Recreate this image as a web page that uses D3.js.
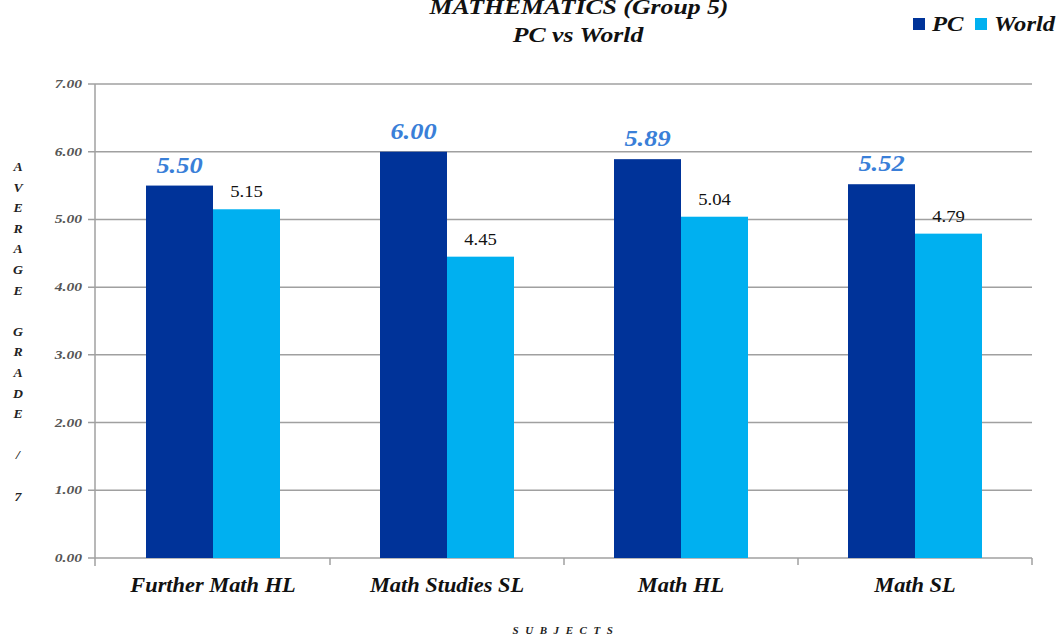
<!DOCTYPE html>
<html><head><meta charset="utf-8">
<script src="https://cdn.jsdelivr.net/npm/d3@7"></script>
</head><body style="margin:0;background:#fff"><svg id="c" width="1064" height="638" style="display:block"></svg>
<script>
const categories = ["Further Math HL","Math Studies SL","Math HL","Math SL"];
const seriesNames = ["PC","World"];
const pcValues = [5.50, 6.00, 5.89, 5.52];
const worldValues = [5.15, 4.45, 5.04, 4.79];
const yTicks = [0,1,2,3,4,5,6,7];
const yAxisLetters = ["A","V","E","R","A","G","E","","G","R","A","D","E","","/","","7"];
const colors = ["#003399","#00b0f0"];
const FF = "Liberation Serif";

const svg = d3.select("#c");
const L = 96, R = 1032, T = 84, B = 558;
const x0 = d3.scaleBand().domain(categories).range([L,R]).paddingInner(0).paddingOuter(0);
const x1 = d3.scaleBand().domain(seriesNames).range([50, 184]);
const y = d3.scaleLinear().domain([0,7]).range([B,T]);

// text helper: positioned via transform with horizontal stretch
function txt(sel, fx, fy, size, bold, italic, fill, sx){
  return sel.attr("transform",(d,i)=>`translate(${typeof fx==="function"?fx(d,i):fx},${typeof fy==="function"?fy(d,i):fy}) scale(${sx},1)`)
    .style("font-family", FF).style("font-size", size+"px")
    .style("font-weight", bold?"bold":"normal").style("font-style", italic?"italic":"normal")
    .attr("fill", fill);
}

svg.append("g").selectAll("line").data(yTicks).join("line")
  .attr("x1",L-8).attr("x2",R).attr("y1",d=>y(d)).attr("y2",d=>y(d))
  .attr("stroke","#a0a0a0").attr("stroke-width",1.5);
txt(svg.append("g").selectAll("text").data(yTicks).join("text").attr("text-anchor","end"),
  L-14, d=>y(d)+4, 12, true, true, "#555", 1.3)
  .text(d=>d.toFixed(2));
svg.append("line").attr("x1",L-1).attr("x2",L-1).attr("y1",T).attr("y2",B+8).attr("stroke","#a0a0a0").attr("stroke-width",1.5);
svg.append("g").selectAll("line").data(categories).join("line")
  .attr("x1",d=>x0(d)+x0.bandwidth()).attr("x2",d=>x0(d)+x0.bandwidth())
  .attr("y1",B).attr("y2",B+7).attr("stroke","#a0a0a0").attr("stroke-width",1.5);

const data = categories.map((c,i)=>({c, vals:[pcValues[i], worldValues[i]]}));
const g = svg.append("g").selectAll("g").data(data).join("g").attr("transform",d=>`translate(${x0(d.c)},0)`);
g.selectAll("rect").data(d=>d.vals.map((v,j)=>({v,s:seriesNames[j],j}))).join("rect")
  .attr("x",d=>x1(d.s)).attr("width",x1.bandwidth()).attr("y",d=>y(d.v)).attr("height",d=>B-y(d.v))
  .attr("fill",d=>colors[d.j]);
g.selectAll("text.v").data(d=>d.vals.map((v,j)=>({v,s:seriesNames[j],j}))).join("text")
  .attr("class","v").attr("text-anchor","middle")
  .attr("transform",d=>`translate(${x1(d.s)+x1.bandwidth()/2},${y(d.v)-(d.j===0?13:12)}) scale(1.1,1)`)
  .style("font-family",FF)
  .style("font-size",d=>d.j===0?"24px":"17px")
  .style("font-weight",d=>d.j===0?"bold":"normal")
  .style("font-style",d=>d.j===0?"italic":"normal")
  .attr("fill",d=>d.j===0?"#3a7fd8":"#111")
  .text(d=>d.v.toFixed(2));
txt(svg.append("g").selectAll("text").data(categories).join("text").attr("text-anchor","middle"),
  d=>x0(d)+x0.bandwidth()/2, 592, 20, true, true, "#111", 1.12)
  .text(d=>d);
txt(svg.append("text").attr("text-anchor","middle").style("letter-spacing","6px"),
  566, 634, 10, true, true, "#222", 1.1)
  .text("SUBJECTS");
txt(svg.append("g").selectAll("text").data(yAxisLetters).join("text").attr("text-anchor","middle"),
  18, (d,i)=>171+i*20.6, 12, true, true, "#222", 1.15)
  .text(d=>d);
txt(svg.append("text").attr("text-anchor","middle"), 579, 14, 22, true, true, "#111", 1.17)
  .text("MATHEMATICS (Group 5)");
txt(svg.append("text").attr("text-anchor","middle"), 578, 42, 22, true, true, "#111", 1.17)
  .text("PC vs World");
const leg = svg.append("g").selectAll("g").data(seriesNames).join("g")
  .attr("transform",(d,i)=>`translate(${i===0?913:975},0)`);
leg.append("rect").attr("x",0).attr("y",18).attr("width",12).attr("height",12).attr("fill",(d,i)=>colors[i]);
txt(leg.append("text"), 19, 31, 22, true, true, "#111", 1.12).text(d=>d);
</script></body></html>
